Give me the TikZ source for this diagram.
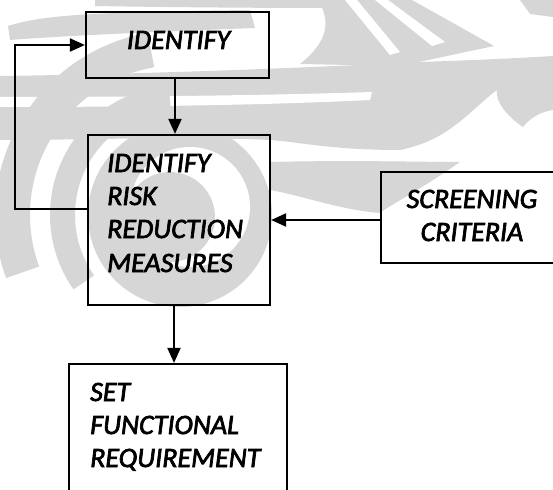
\documentclass[tikz,border=0pt]{standalone}
\usepackage{fontspec}
\setmainfont{Carlito}
% italic label face, emboldened
\font\lblfnt="Carlito/I:embolden=2.5" at 28pt
\usetikzlibrary{arrows.meta}
\definecolor{wmark}{RGB}{214,214,214}
\begin{document}
\begin{tikzpicture}[x=1pt,y=-1pt,
  box/.style={draw, line width=2.2pt, inner sep=0pt},
  lbl/.style={font=\lblfnt, inner sep=0pt},
  arr/.style={line width=2pt, -{Triangle[length=15pt,width=13pt]}},
  ring/.style={draw=wmark, line width=#1},
  ]
\useasboundingbox (0,0) rectangle (553,489);
\clip (0,0) rectangle (553,489);

% faint background emblem
% upper left band and top strip
\fill[wmark] (8,26) .. controls (40,16) and (80,12) .. (250,10)
  -- (255,28) .. controls (150,32) and (60,36) .. (10,40) -- cycle;
\fill[wmark] (95,0) -- (330,0) -- (330,8) .. controls (250,8) and (150,7) .. (95,6) -- cycle;
% chevrons
\fill[wmark] (318,0) -- (412,0) -- (494,46) -- (400,66) -- (300,64)
  .. controls (330,40) and (330,20) .. (318,0) -- cycle;
\fill[white] (345,0) -- (357,0) -- (400,52) -- (390,55) -- cycle;
\fill[white] (375,0) -- (388,0) -- (445,42) -- (432,46) -- cycle;
\fill[wmark] (520,0) -- (553,0) -- (553,17) -- (530,14) -- cycle;
% wide band
\fill[wmark] (0,76) .. controls (150,74) and (300,68) .. (420,62)
  .. controls (480,60) and (520,58) .. (553,56)
  -- (553,110) .. controls (540,112) and (530,118) .. (523,127)
  .. controls (505,115) and (495,100) .. (497,90)
  .. controls (470,110) and (450,140) .. (400,150)
  .. controls (330,150) and (300,142) .. (270,140)
  .. controls (180,136) and (90,140) .. (0,140) -- cycle;
\fill[white] (0,97) .. controls (100,97) and (250,96) .. (372,92)
  -- (370,100) .. controls (250,106) and (100,107) .. (0,107) -- cycle;
% lobe to the right of the centre
\fill[wmark] (270,162) .. controls (350,160) and (420,162) .. (460,162)
  .. controls (420,190) and (390,205) .. (380,213)
  .. controls (340,210) and (300,195) .. (270,190) -- cycle;
% rings round the centre
\coordinate (wc) at (180,215);
\fill[wmark] (wc) circle (92pt);
\fill[white] (190,207) circle (60pt);
\fill[wmark] (170,217) circle (45pt);
\draw[ring=25pt] (wc) ++(95:117.5pt) arc[start angle=95, end angle=215, radius=117.5pt];
\draw[ring=35pt] (wc) ++(100:167.5pt) arc[start angle=100, end angle=200, radius=167.5pt];

% boxes
\node[box, minimum width=183pt, minimum height=66pt]  (b1) at (177.5,45)  {};
\node[box, minimum width=182pt, minimum height=170pt] (b2) at (179,220)   {};
\node[box, minimum width=218pt, minimum height=146pt] (b3) at (178,437)   {};
\node[box, minimum width=182pt, minimum height=91pt]  (b4) at (472,217.5) {};

% labels
\node[lbl, anchor=base] (t1) at (178.5,49) {IDENTIFY};
\node[lbl, anchor=base west] (t2a) at (107,172) {IDENTIFY};
\node[lbl, anchor=base west] (t2b) at (107,205) {RISK};
\node[lbl, anchor=base west] (t2c) at (107,238) {REDUCTION};
\node[lbl, anchor=base west] (t2d) at (107,272) {MEASURES};
\node[lbl, anchor=base west] (t3a) at (90,401) {SET};
\node[lbl, anchor=base west] (t3b) at (90,434) {FUNCTIONAL};
\node[lbl, anchor=base west] (t3c) at (90,467) {REQUIREMENT};
\node[lbl, anchor=base] (t4a) at (472,208) {SCREENING};
\node[lbl, anchor=base] (t4b) at (472,241) {CRITERIA};

% connectors
\coordinate (c12) at (175,0);
\coordinate (c23) at (174,0);
\coordinate (loop) at (15,209);
\coordinate (c42) at (0,220);
\draw[arr] (c12 |- b1.south) -- (c12 |- b2.north);
\draw[arr] (c23 |- b2.south) -- (c23 |- b3.north);
\draw[arr] (loop -| b2.west) -- (loop) |- (b1.west);
\draw[arr] (c42 -| b4.west) -- (c42 -| b2.east);
\end{tikzpicture}
\end{document}
